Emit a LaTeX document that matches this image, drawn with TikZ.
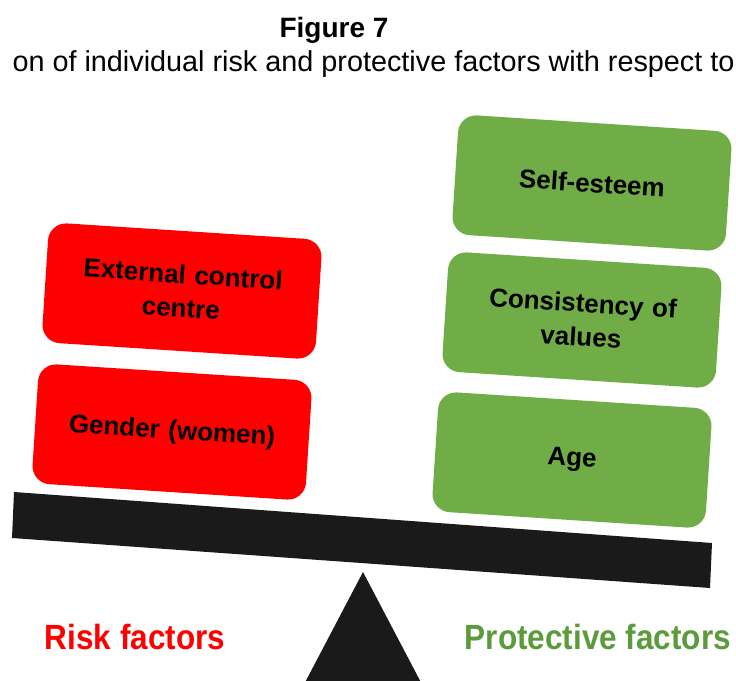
\documentclass[tikz,border=0pt]{standalone}
\usepackage{fontspec}
\setmainfont{Liberation Sans}
\usepackage{xcolor}
\usepackage{tikz}
\usetikzlibrary{positioning,calc}

\definecolor{riskred}{HTML}{FF0000}
\definecolor{protgreen}{HTML}{70AD47}
\definecolor{labelgreen}{HTML}{5B9B3C}
\definecolor{beamblack}{HTML}{1A1A1A}

\tikzset{
    factor/.style={rounded corners=18pt, minimum width=274pt, minimum height=120pt,
        align=center, text width=240pt, font=\fontsize{26}{34}\selectfont\bfseries, rotate=-3.7},
    riskbox/.style={factor, fill=riskred},
    protbox/.style={factor, fill=protgreen},
    sidelabel/.style={font=\fontsize{35}{40}\selectfont\bfseries, xscale=0.9}
}

\begin{document}
\begin{tikzpicture}[x=1pt,y=1pt]
    \useasboundingbox (0,0) rectangle (736,680);
    \clip (0,0) rectangle (736,680);
    % Caption
    \node (title) at (334,650) {\fontsize{28}{32}\selectfont\bfseries Figure 7};
    \node[anchor=base west] (caption) at (9,608) {\fontsize{28.8}{32}\selectfont on of individual risk and protective factors with respect to};
    % Risk factors
    \node[riskbox] (extcontrol) at (182,389) {External control\\centre};
    \node[riskbox] (gender) at (172,248) {Gender (women)};
    % Protective factors
    \node[protbox] (selfesteem) at (592,497) {Self-esteem};
    \node[protbox] (consistency) at (582,360) {Consistency of\\values};
    \node[protbox] (age) at (572,220) {Age};
    % Beam and fulcrum
    \fill[beamblack] (14,188) -- (712,137) -- (710,92) -- (12,142) -- cycle;
    \fill[beamblack] (363,108) -- (426,-12) -- (300,-12) -- cycle;
    % Labels
    \node[sidelabel, text=riskred] (risk) at (135,43) {Risk factors};
    \node[sidelabel, text=labelgreen] (protective) at (598,43) {Protective factors};
\end{tikzpicture}
\end{document}
